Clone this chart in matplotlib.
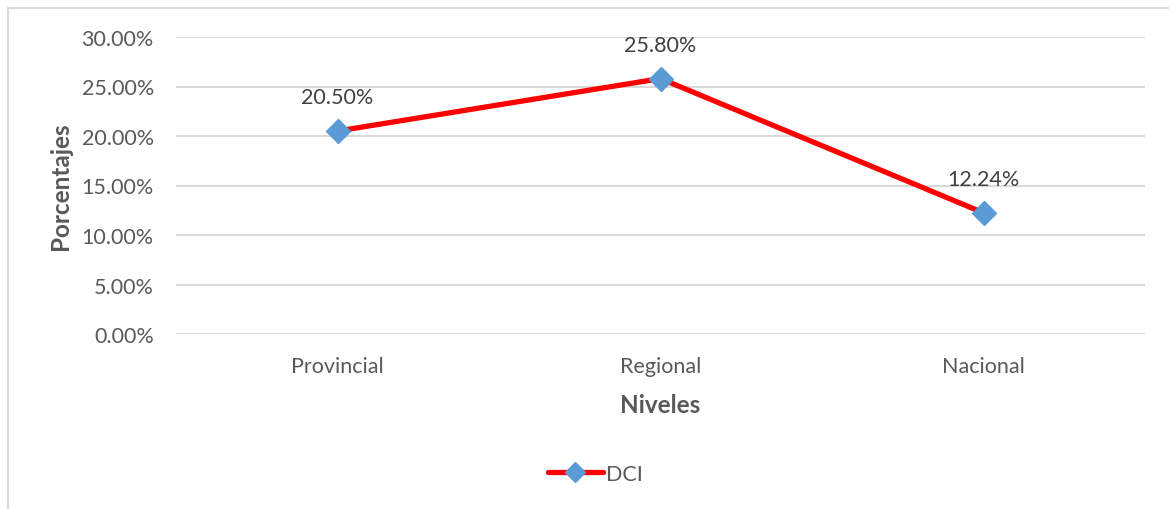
import matplotlib
matplotlib.use("Agg")
import matplotlib.pyplot as plt
from matplotlib.patches import Rectangle
from matplotlib.lines import Line2D

categories = ["Provincial", "Regional", "Nacional"]
values = [0.2050, 0.2580, 0.1224]
value_labels = ["20.50%", "25.80%", "12.24%"]
yticks = [0.0, 0.05, 0.10, 0.15, 0.20, 0.25, 0.30]
series_name = "DCI"

plt.rcParams['font.family'] = ['Lato', 'DejaVu Sans']

fig = plt.figure(figsize=(11.69, 5.10), dpi=100)
fig.patches.append(Rectangle((8/1169, -0.1), 1.2, 1 - 9/510 + 0.1, transform=fig.transFigure,
                             fill=False, edgecolor="#D9D9D9", linewidth=1.5))
ax = fig.add_axes([176/1169, 1 - 335/510, (1145 - 176)/1169, (335 - 38)/510])

x = list(range(len(categories)))
ax.plot(x, values, color="#FF0000", linewidth=3.8, marker="D", markersize=12.5,
        markerfacecolor="#5B9BD5", markeredgecolor="#5B9BD5", solid_capstyle="round", zorder=3)

for xi, v, lab in zip(x, values, value_labels):
    ax.annotate(lab, (xi, v), xytext=(0, 17), textcoords="offset points", ha="center", va="bottom",
                fontsize=15.5, color="#404040")

ax.set_xlim(-0.5, 2.5)
ax.set_ylim(0, 0.30)
ax.set_yticks(yticks)
ax.set_yticklabels([f"{t*100:.2f}%" for t in yticks])
ax.set_xticks(x)
ax.set_xticklabels(categories)
ax.tick_params(axis="both", length=0, labelsize=15.5, labelcolor="#595959")
ax.tick_params(axis="y", pad=16)
ax.tick_params(axis="x", pad=16)
ax.grid(axis="y", color="#D9D9D9", linewidth=1.5)
ax.set_axisbelow(True)
for s in ax.spines.values():
    s.set_visible(False)

ax.set_xlabel("Niveles", fontsize=17.5, fontweight="bold", color="#595959", labelpad=12)
ax.set_ylabel("Porcentajes", fontsize=17.5, fontweight="bold", color="#595959", labelpad=7)

handle = Line2D([], [], color="#FF0000", linewidth=3.8, marker="D", markersize=10,
                markerfacecolor="#5B9BD5", markeredgecolor="#5B9BD5", solid_capstyle="round")
fig.legend([handle], [series_name], loc="center", bbox_to_anchor=(595/1169, 1 - 475/510),
           frameon=False, fontsize=15.5, labelcolor="#595959", handlelength=2.6, handletextpad=0.1)

fig.savefig("out.png", dpi=100)
